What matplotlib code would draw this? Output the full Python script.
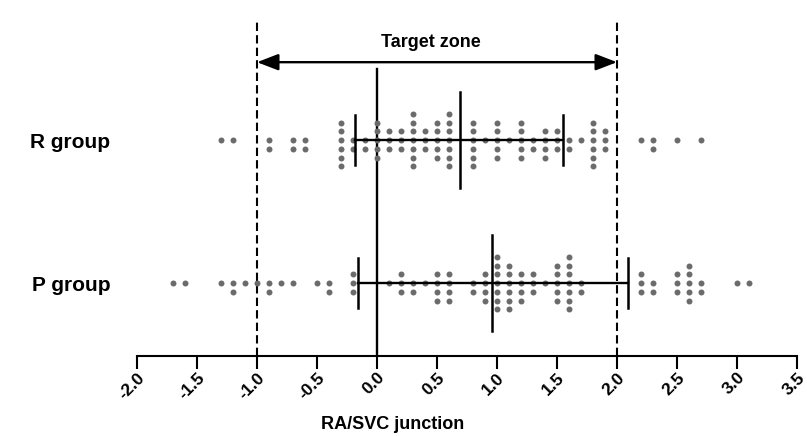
import numpy as np
import matplotlib
matplotlib.use("Agg")
import matplotlib.pyplot as plt

plt.rcParams['font.family'] = ['Liberation Sans', 'DejaVu Sans']
plt.rcParams['font.weight'] = 'bold'

# values (cm from RA/SVC junction) and how many catheters at each value
r_vals = [-1.3, -1.2, -0.9, -0.7, -0.6, -0.3, -0.2, -0.1, 0.0, 0.1, 0.2, 0.3, 0.4,
          0.5, 0.6, 0.8, 0.9, 1.0, 1.1, 1.2, 1.3, 1.4, 1.5, 1.6, 1.7, 1.8, 1.9,
          2.2, 2.3, 2.5, 2.7]
r_counts = [1, 1, 2, 2, 2, 6, 2, 2, 5, 3, 3, 7, 3,
            5, 7, 6, 1, 5, 1, 5, 2, 4, 3, 2, 1, 6, 3,
            1, 2, 1, 1]

p_vals = [-1.7, -1.6, -1.3, -1.2, -1.1, -1.0, -0.9, -0.8, -0.7, -0.5, -0.4, -0.2,
          0.1, 0.2, 0.3, 0.4, 0.5, 0.6, 0.8, 0.9, 1.0, 1.1, 1.2, 1.3, 1.4, 1.5,
          1.6, 1.7, 2.2, 2.3, 2.5, 2.6, 2.7, 3.0, 3.1]
p_counts = [1, 1, 1, 2, 1, 1, 2, 1, 1, 1, 2, 3,
            1, 3, 2, 1, 4, 4, 2, 4, 7, 6, 4, 3, 1, 5,
            7, 2, 3, 2, 3, 5, 2, 1, 1]

groups = ['P group', 'R group']
centers = [0.96, 0.69]       # mean line
lows = [-0.16, -0.18]
highs = [2.09, 1.55]

target_lo, target_hi = -1.0, 2.0
xticks = np.arange(-2.0, 3.51, 0.5)

fig = plt.figure(figsize=(8.07, 4.36), dpi=100)
ax = fig.add_axes([137 / 807, 1 - 356 / 436, 660 / 807, 346 / 436])

dot_step = 0.061
dot_color = '#6b6b6b'


def swarm(vals, counts, row):
    xs, ys = [], []
    for v, n in zip(vals, counts):
        for k in range(n):
            # 0, down, up, down, up ...
            lvl = (k + 1) // 2
            sign = -1 if k % 2 == 1 else 1
            xs.append(v)
            ys.append(row + sign * lvl * dot_step)
    return xs, ys


for row, (vals, counts) in enumerate([(p_vals, p_counts), (r_vals, r_counts)]):
    xs, ys = swarm(vals, counts, row)
    ax.plot(xs, ys, 'o', ms=4.3, color=dot_color, mec='none', zorder=2)
    ax.plot([lows[row], highs[row]], [row, row], color='black', lw=1.7, zorder=3)
    ax.plot([centers[row]] * 2, [row - 0.336, row + 0.336], color='black', lw=1.8, zorder=3)
    for w in (lows[row], highs[row]):
        ax.plot([w, w], [row - 0.175, row + 0.175], color='black', lw=1.8, zorder=3)

# reference lines
ymin, ymax = -0.51, 1.91
ax.plot([target_lo] * 2, [ymin, 1.84], color='black', lw=1.5, ls=(0, (4, 2)), zorder=1)
ax.plot([target_hi] * 2, [ymin, 1.84], color='black', lw=1.5, ls=(0, (4, 2)), zorder=1)
ax.plot([0, 0], [ymin, 1.50], color='black', lw=1.7, zorder=1)

ax.annotate('', xy=(target_lo, 1.545), xytext=(target_hi, 1.545),
            arrowprops=dict(arrowstyle='<|-|>,head_length=0.65,head_width=0.25',
                            color='black', lw=1.7, mutation_scale=20,
                            shrinkA=0, shrinkB=0))
ax.text((target_lo + target_hi) / 2 - 0.05, 1.685, 'Target zone', ha='center', va='center',
        fontsize=13, fontweight='bold')

ax.set_xlim(-2.0, 3.5)
ax.set_ylim(ymin, ymax)
ax.set_xticks(xticks)
ax.set_xticklabels([f'{t:.1f}' for t in xticks], rotation=45, ha='right',
                   rotation_mode='anchor', fontsize=12.5, fontweight='bold')
ax.tick_params(axis='x', length=9, width=1.5, pad=1)
ax.set_yticks([0, 1])
ax.set_yticklabels(groups, fontsize=15, fontweight='bold')
ax.tick_params(axis='y', length=0, pad=19)

for s in ['top', 'right', 'left']:
    ax.spines[s].set_visible(False)
ax.spines['bottom'].set_linewidth(1.5)

fig.text(393 / 807, 1 - 424 / 436, 'RA/SVC junction', ha='center', va='center',
         fontsize=13, fontweight='bold')

fig.savefig('out.png', dpi=100)
